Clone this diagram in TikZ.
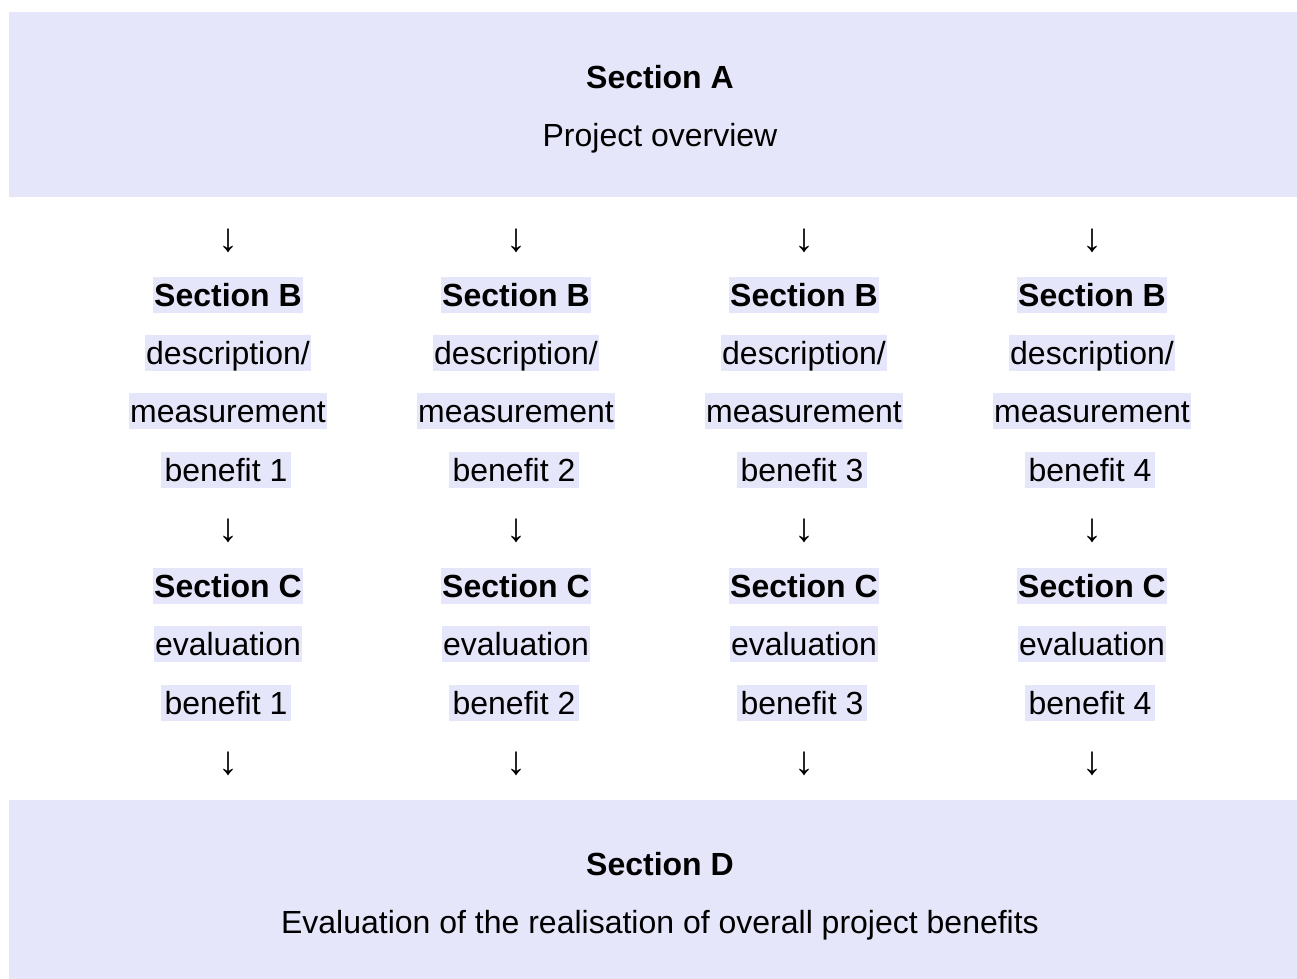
\documentclass[tikz,border=0pt]{standalone}
\usepackage{fontspec}
\setmainfont{Liberation Sans}
\definecolor{lav}{RGB}{230,230,250}
\begin{document}
\begin{tikzpicture}[x=0.75pt,y=-0.75pt,
  txt/.style={font=\fontsize{24}{28}\selectfont, inner sep=0pt, anchor=base},
  hl/.style={txt, fill=lav, inner xsep=1pt, text height=21.7pt, text depth=5.1pt},
  hlb/.style={hl, inner xsep=3pt},
  arr/.style={font=\fontsize{30}{34}\selectfont, inner sep=0pt, anchor=center},
  band/.style={fill=lav, draw=none}]
\useasboundingbox (0,0) rectangle (1297,979);
\path[band] (9,12) rectangle (1297,197);
\path[band] (9,800) rectangle (1297,979);
\node[txt] (A1) at (660,88) {\bfseries Section A};
\node[txt] (A2) at (660,146) {Project overview};
\foreach \i/\x in {1/228,2/516,3/804,4/1092}{
  \node[arr] (a\i) at (\x,240.5) {↓};
  \node[hl] (b\i) at (\x,306) {\bfseries Section B};
  \node[hl] (bd\i) at (\x,364) {description/};
  \node[hl] (bm\i) at (\x,422) {measurement};
  \node[hlb] (bb\i) at (\x-2,481) {benefit \i};
  \node[arr] (ab\i) at (\x,531) {↓};
  \node[hl] (c\i) at (\x,597) {\bfseries Section C};
  \node[hl] (ce\i) at (\x,655) {evaluation};
  \node[hlb] (cb\i) at (\x-2,714) {benefit \i};
  \node[arr] (ac\i) at (\x,764) {↓};
}
\node[txt] (D1) at (660,875) {\bfseries Section D};
\node[txt] (D2) at (660,933) {Evaluation of the realisation of overall project benefits};
\end{tikzpicture}
\end{document}
